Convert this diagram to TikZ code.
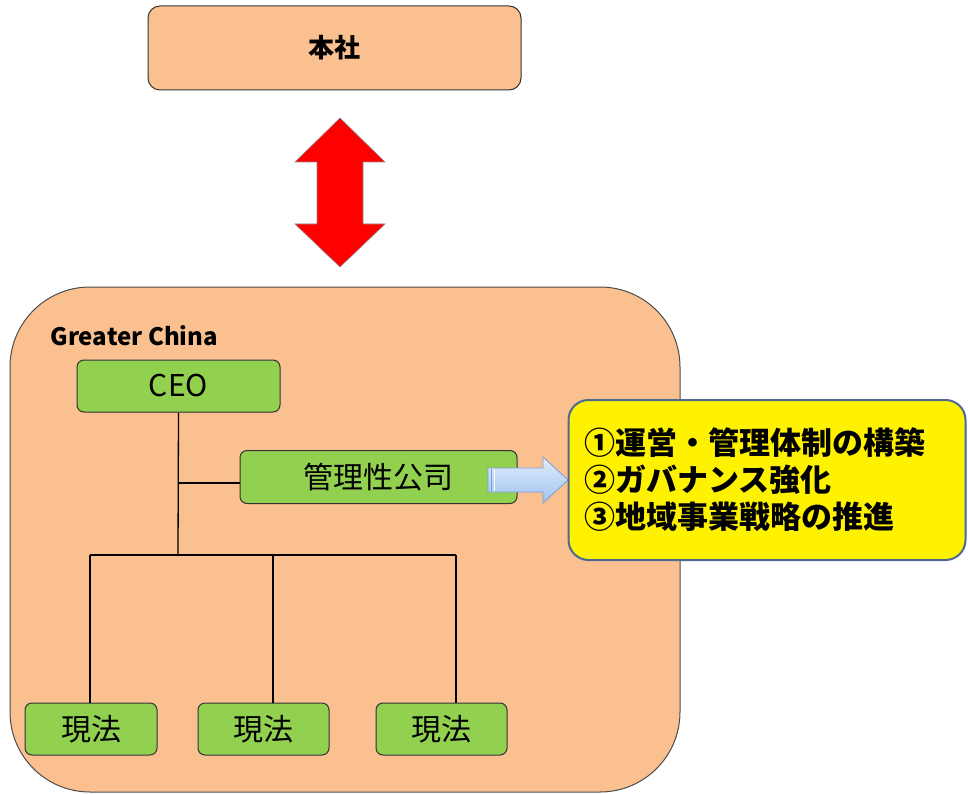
\documentclass[tikz,border=0pt]{standalone}
\usepackage{fontspec}
\setmainfont{Noto Sans CJK JP}
\usetikzlibrary{positioning}

\definecolor{peach}{RGB}{250,192,143}
\definecolor{leaf}{RGB}{146,208,80}
\definecolor{goalrim}{RGB}{75,105,145}
\definecolor{arrowrim}{RGB}{120,160,215}
\definecolor{skytop}{RGB}{225,236,252}
\definecolor{skybottom}{RGB}{160,195,240}

\tikzset{
  orgbox/.style={draw=black!80, fill=leaf, rounded corners=7pt, line width=1pt,
    inner sep=0pt, font=\fontsize{30}{34}\selectfont},
  hqbox/.style={orgbox, fill=peach, rounded corners=12pt, font=\bfseries\fontsize{26}{30}\selectfont},
  goalbox/.style={draw=goalrim, fill=yellow, line width=2pt, rounded corners=20pt,
    align=left, font=\bfseries\fontsize{31}{37}\selectfont},
  link/.style={line width=1.3pt}
}

\begin{document}
\begin{tikzpicture}[x=1pt,y=-1pt]

            \useasboundingbox (0,0) rectangle (968,794);

            % head office
            \node[hqbox, minimum width=373pt, minimum height=84pt] (hq) at (334.5,48) {本社};

            \fill[red, draw=black!45, line width=0.6pt]
                (340,118) -- (385,162) -- (363,162) -- (363,224) -- (385,224) -- (340,267)
                -- (295,224) -- (317,224) -- (317,162) -- (295,162) -- cycle;

            % regional block
            \draw[fill=peach, draw=black!70, line width=1pt, rounded corners=80pt] (10,287) rectangle (680,792);
            \node[anchor=west, font=\bfseries\fontsize{24}{28}\selectfont] (gcname) at (47,336) {Greater China};

            \node[orgbox, minimum width=203pt, minimum height=52pt] (ceo) at (178.5,386) {CEO};
            \node[orgbox, minimum width=277pt, minimum height=53pt] (mgmt) at (378.5,477) {管理性公司};

            \node[orgbox, minimum width=132pt, minimum height=52pt] (sub1) at (91,729) {現法};
            \node[orgbox, minimum width=131pt, minimum height=52pt] (sub2) at (263.5,729) {現法};
            \node[orgbox, minimum width=131pt, minimum height=52pt] (sub3) at (441.5,729) {現法};

            \coordinate (bus) at (178,555);
            \coordinate (bus1) at (90,555);
            \coordinate (bus2) at (273,555);
            \coordinate (bus3) at (456,555);
            \coordinate (tap) at (178,483);

            \draw[link] (ceo.south) -- (bus);
            \draw[link] (tap) -- (tap -| mgmt.west);
            \draw[link] (bus1) -- (bus3);
            \draw[link] (bus1) -- (bus1 |- sub1.north);
            \draw[link] (bus2) -- (bus2 |- sub2.north);
            \draw[link] (bus3) -- (bus3 |- sub3.north);

            % goals
            \shade[top color=skytop, bottom color=skybottom, draw=arrowrim, line width=0.8pt]
                (488,468) -- (543,468) -- (543,457) -- (568,480) -- (543,503) -- (543,492) -- (488,492) -- cycle;
            \draw[arrowrim, line width=1pt] (491,469) -- (491,491);
            \draw[white, line width=1pt] (494,469) -- (494,491);

            \node[goalbox, text width=365pt, inner xsep=16pt, minimum height=160pt] (goal) at (767,480)
                {①運営・管理体制の構築\\②ガバナンス強化\\③地域事業戦略の推進};

\end{tikzpicture}
\end{document}
